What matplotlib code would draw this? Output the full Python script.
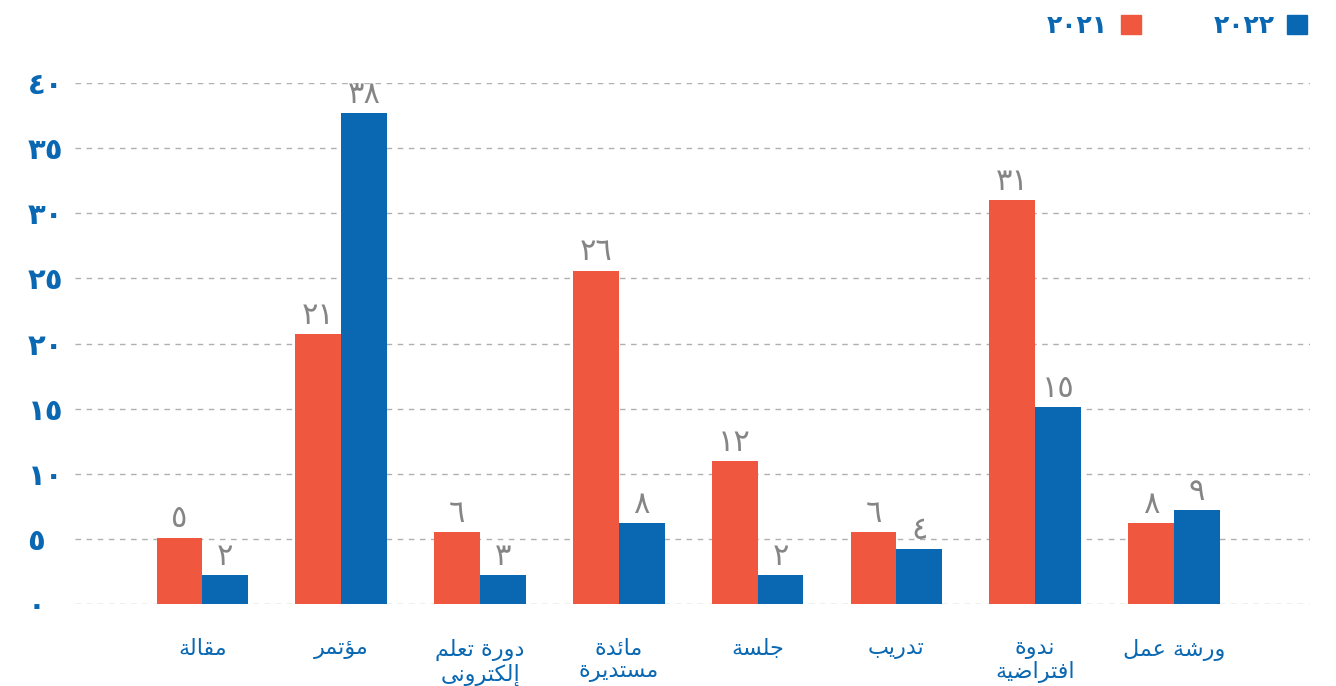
import numpy as np
import matplotlib
matplotlib.use("Agg")
import matplotlib.pyplot as plt
from matplotlib.patches import Patch

# categories, left to right as they appear on the chart
categories = ["مقالة", "مؤتمر", "دورة تعلم\nإلكترونى", "مائدة\nمستديرة",
              "جلسة", "تدريب", "ندوة\nافتراضية", "ورشة عمل"]

# printed data labels
labels_2021 = [5, 21, 6, 26, 12, 6, 31, 8]
labels_2022 = [2, 38, 3, 8, 2, 4, 15, 9]

# bar heights as drawn in the source (they don't always match the labels)
heights_2021 = [5.1, 20.7, 5.5, 25.6, 11.0, 5.5, 31.0, 6.2]
heights_2022 = [2.2, 37.7, 2.2, 6.2, 2.2, 4.2, 15.1, 7.2]

yticks = [0, 5, 10, 15, 20, 25, 30, 35, 40]

RED = "#F0573F"
BLUE = "#0A68B3"
GREY_TXT = "#858585"

# --- tiny Arabic shaper (matplotlib has no complex text layout) ---
FORMS = {"ا": 0xFE8D, "أ": 0xFE83, "إ": 0xFE87, "ؤ": 0xFE85, "ئ": 0xFE89,
         "ب": 0xFE8F, "ة": 0xFE93, "ت": 0xFE95, "ج": 0xFE9D, "د": 0xFEA9,
         "ر": 0xFEAD, "س": 0xFEB1, "ش": 0xFEB5, "ض": 0xFEBD, "ع": 0xFEC9,
         "ف": 0xFED1, "ق": 0xFED5, "ك": 0xFED9, "ل": 0xFEDD, "م": 0xFEE1,
         "ن": 0xFEE5, "و": 0xFEED, "ى": 0xFEEF, "ي": 0xFEF1}
RIGHT_ONLY = set("اأإؤةدروى")


def shape_line(s):
    out = []
    for i, ch in enumerate(s):
        if ch not in FORMS:
            out.append(ch)
            continue
        prev = s[i - 1] if i > 0 else ""
        nxt = s[i + 1] if i + 1 < len(s) else ""
        join_prev = prev in FORMS and prev not in RIGHT_ONLY
        join_next = ch not in RIGHT_ONLY and nxt in FORMS
        if join_prev and join_next:
            off = 3
        elif join_next:
            off = 2
        elif join_prev:
            off = 1
        else:
            off = 0
        out.append(chr(FORMS[ch] + off))
    return "".join(reversed(out))


def shape(s):
    return "\n".join(shape_line(line) for line in s.split("\n"))


AR_DIGITS = str.maketrans("0123456789", "٠١٢٣٤٥٦٧٨٩")


def ar_num(n):
    return str(n).translate(AR_DIGITS)


plt.rcParams["font.family"] = ["DejaVu Sans"]

fig = plt.figure(figsize=(13.36, 6.86), dpi=100)
ax = fig.add_axes([0.056, 0.1195, 0.9245, 0.7595])

x = np.arange(len(categories))
w = 0.33

b1 = ax.bar(x - w / 2, heights_2021, w, color=RED, zorder=3)
b2 = ax.bar(x + w / 2, heights_2022, w, color=BLUE, zorder=3)

for bars, labs in ((b1, labels_2021), (b2, labels_2022)):
    for rect, lab in zip(bars, labs):
        ax.annotate(ar_num(lab), (rect.get_x() + rect.get_width() / 2, rect.get_height()),
                    xytext=(0, 3), textcoords="offset points", ha="center", va="bottom",
                    fontsize=22, color=GREY_TXT, annotation_clip=False)

ax.set_xlim(-0.92, 7.98)
ax.set_ylim(0, 40)
ax.set_yticks(yticks)
ax.set_yticklabels([ar_num(t) for t in yticks], fontsize=21, fontweight="bold", color=BLUE)
ax.yaxis.grid(True, linestyle=(0, (4, 4)), color="#b0b0b0", linewidth=1)
ax.set_axisbelow(True)

ax.set_xticks(x)
ax.set_xticklabels([shape(c) for c in categories], fontsize=16, color=BLUE,
                   linespacing=1.12)
ax.tick_params(axis="x", length=0, pad=25)
ax.tick_params(axis="y", length=0, pad=34)
for lbl in ax.get_yticklabels():
    lbl.set_horizontalalignment("left")

for sp in ax.spines.values():
    sp.set_visible(False)

handles = [Patch(color=RED, label=ar_num(2021)), Patch(color=BLUE, label=ar_num(2022))]
fig.legend(handles=handles, loc="upper right", bbox_to_anchor=(0.995, 1.012), ncol=2,
           markerfirst=False, frameon=False, handlelength=0.8, handleheight=0.8,
           handletextpad=0.5, columnspacing=2.9,
           prop={"size": 18, "weight": "bold"}, labelcolor=BLUE)

fig.savefig("out.png", dpi=100)
